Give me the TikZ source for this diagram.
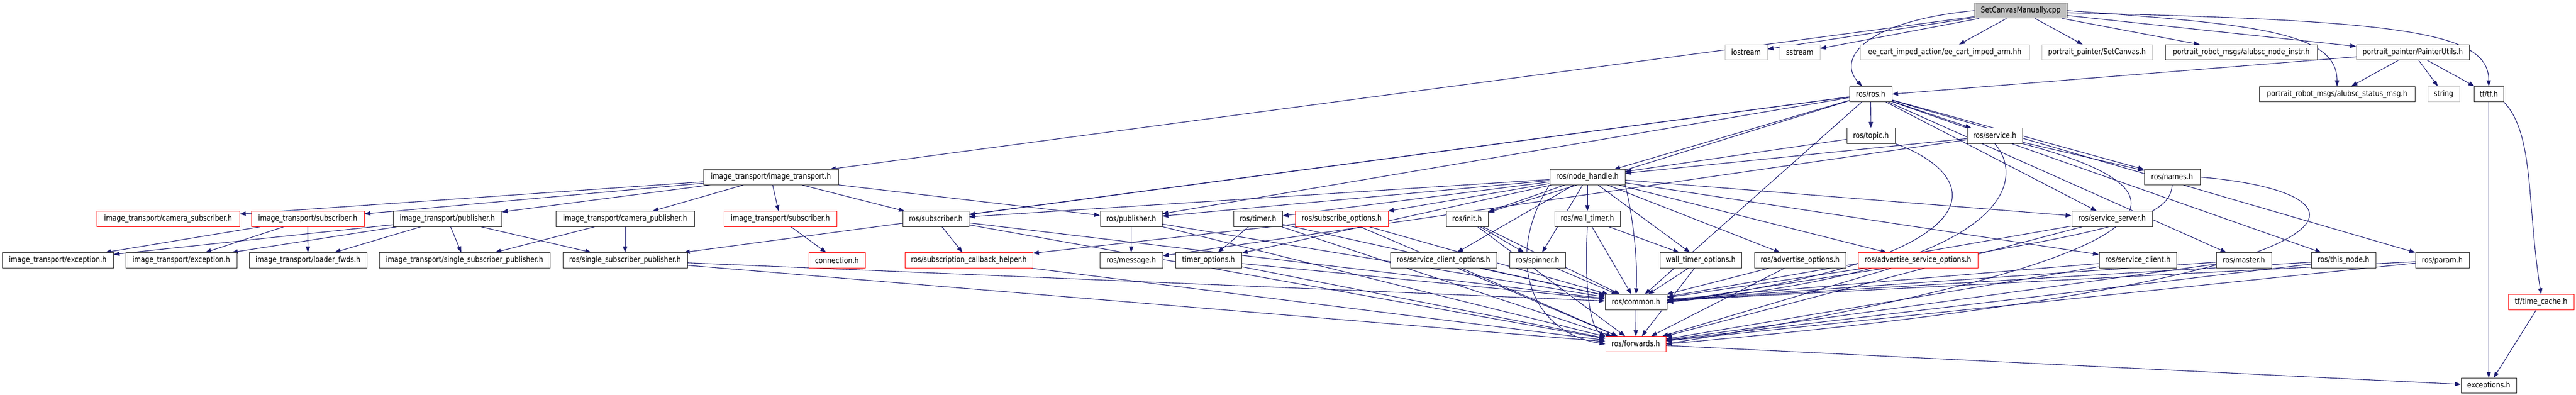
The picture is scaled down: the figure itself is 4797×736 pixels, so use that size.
\documentclass[tikz,border=0pt]{standalone}
\usepackage{fontspec}
\usepackage{graphicx}
\newfontfamily\dejavu{DejaVu Sans}
\usetikzlibrary{arrows.meta,backgrounds}
\definecolor{eblue}{HTML}{191970}
\definecolor{ngray}{HTML}{BFBFBF}
\newcommand\lbl[1]{\scalebox{1}[1.17]{#1}}
\tikzset{
  box/.style={draw=black!85, line width=1pt, minimum height=28.3pt, inner sep=0pt, fill=white, text=black,
    font=\dejavu\fontsize{12.6pt}{14pt}\selectfont},
  redbox/.style={box, draw=red},
  graybox/.style={box, draw=ngray},
  mainbox/.style={box, fill=ngray},
  dep/.style={draw=eblue, line width=1.1pt, -{Triangle[length=11pt,width=8pt]}},
}
\begin{document}
\begin{tikzpicture}[x=1pt,y=-1pt]
\useasboundingbox (0,0) rectangle (4797,736);
% row 0
\node[mainbox, minimum width=172pt] (main) at (3763,19.8) {\lbl{SetCanvasManually.cpp}};
% row 1
\node[graybox, minimum width=79pt] (iostream) at (3251.5,97.5) {\lbl{iostream}};
\node[graybox, minimum width=75pt] (sstream) at (3351.5,97.5) {\lbl{sstream}};
\node[graybox, minimum width=315pt] (eecart) at (3621.5,97.5) {\lbl{ee\_cart\_imped\_action/ee\_cart\_imped\_arm.hh}};
\node[graybox, minimum width=206pt] (setcanvas) at (3905,97.5) {\lbl{portrait\_painter/SetCanvas.h}};
\node[box, minimum width=283pt] (nodeinstr) at (4173.5,97.5) {\lbl{portrait\_robot\_msgs/alubsc\_node\_instr.h}};
\node[box, minimum width=210pt] (painter) at (4493,97.5) {\lbl{portrait\_painter/PainterUtils.h}};
% row 2
\node[box, minimum width=79pt] (rosros) at (3483.5,175.3) {\lbl{ros/ros.h}};
\node[box, minimum width=290pt] (statusmsg) at (4352,175.3) {\lbl{portrait\_robot\_msgs/alubsc\_status\_msg.h}};
\node[graybox, minimum width=59pt] (string) at (4550.5,175.3) {\lbl{string}};
\node[box, minimum width=55pt] (tf) at (4634.5,175.3) {\lbl{tf/tf.h}};
% row 3
\node[box, minimum width=90pt] (topic) at (3484,253) {\lbl{ros/topic.h}};
\node[box, minimum width=103pt] (service) at (3714.5,253) {\lbl{ros/service.h}};
% row 4
\node[box, minimum width=251pt] (itit) at (1435.5,330) {\lbl{image\_transport/image\_transport.h}};
\node[box, minimum width=140pt] (nh) at (2956,330) {\lbl{ros/node\_handle.h}};
\node[box, minimum width=104pt] (names) at (4045,330) {\lbl{ros/names.h}};
% row 5
\node[redbox, minimum width=266pt] (camsub) at (313,408) {\lbl{image\_transport/camera\_subscriber.h}};
\node[redbox, minimum width=210pt] (itsuba) at (573,408) {\lbl{image\_transport/subscriber.h}};
\node[box, minimum width=202pt] (itpub) at (833,408) {\lbl{image\_transport/publisher.h}};
\node[box, minimum width=258pt] (campub) at (1164,408) {\lbl{image\_transport/camera\_publisher.h}};
\node[redbox, minimum width=210pt] (itsubb) at (1453,408) {\lbl{image\_transport/subscriber.h}};
\node[box, minimum width=123pt] (rsub) at (1742.5,408) {\lbl{ros/subscriber.h}};
\node[box, minimum width=115pt] (rpub) at (2106.5,408) {\lbl{ros/publisher.h}};
\node[box, minimum width=91pt] (timer) at (2342.5,408) {\lbl{ros/timer.h}};
\node[redbox, minimum width=173pt] (subopt) at (2498.5,408) {\lbl{ros/subscribe\_options.h}};
\node[box, minimum width=78pt] (init) at (2732,408) {\lbl{ros/init.h}};
\node[box, minimum width=122pt] (wtimer) at (2956,408) {\lbl{ros/wall\_timer.h}};
\node[box, minimum width=150pt] (ssrv) at (3933,408) {\lbl{ros/service\_server.h}};
% row 6
\node[box, minimum width=207pt] (exca) at (107.5,485) {\lbl{image\_transport/exception.h}};
\node[box, minimum width=207pt] (excb) at (337.5,485) {\lbl{image\_transport/exception.h}};
\node[box, minimum width=219pt] (loader) at (573.5,485) {\lbl{image\_transport/loader\_fwds.h}};
\node[box, minimum width=318pt] (itssp) at (865,485) {\lbl{image\_transport/single\_subscriber\_publisher.h}};
\node[box, minimum width=232pt] (rssp) at (1164,485) {\lbl{ros/single\_subscriber\_publisher.h}};
\node[redbox, minimum width=105pt] (conn) at (1558.5,485) {\lbl{connection.h}};
\node[redbox, minimum width=238pt] (sch) at (1804,485) {\lbl{ros/subscription\_callback\_helper.h}};
\node[box, minimum width=117pt] (msg) at (2106.5,485) {\lbl{ros/message.h}};
\node[box, minimum width=123pt] (topt) at (2250.5,485) {\lbl{timer\_options.h}};
\node[box, minimum width=198pt] (sco) at (2688,485) {\lbl{ros/service\_client\_options.h}};
\node[box, minimum width=104pt] (spinner) at (2863,485) {\lbl{ros/spinner.h}};
\node[box, minimum width=152pt] (wto) at (3167,485) {\lbl{wall\_timer\_options.h}};
\node[box, minimum width=170pt] (advo) at (3352,485) {\lbl{ros/advertise\_options.h}};
\node[redbox, minimum width=223pt] (adso) at (3571.5,485) {\lbl{ros/advertise\_service\_options.h}};
\node[box, minimum width=144pt] (sclient) at (3981,485) {\lbl{ros/service\_client.h}};
\node[box, minimum width=103pt] (master) at (4178.5,485) {\lbl{ros/master.h}};
\node[box, minimum width=120pt] (thisnode) at (4364,485) {\lbl{ros/this\_node.h}};
\node[box, minimum width=100pt] (param) at (4548,485) {\lbl{ros/param.h}};
% row 7
\node[box, minimum width=115pt] (common) at (3046.5,563) {\lbl{ros/common.h}};
\node[redbox, minimum width=122pt] (tcache) at (4732,563) {\lbl{tf/time\_cache.h}};
% row 8
\node[redbox, minimum width=112pt] (fwd) at (3046,641) {\lbl{ros/forwards.h}};
% row 9
\node[box, minimum width=103pt] (excs) at (4634.5,718.6) {\lbl{exceptions.h}};

\begin{scope}[on background layer]
\fill[white] (0,0) rectangle (4797,736);
% main file
\foreach \t in {itit,iostream,sstream,eecart,setcanvas,nodeinstr,painter}
  \draw[dep] (main) -- (\t);
\draw[dep] (main.west) .. controls (3470,40) and (3420,110) .. ([xshift=-16pt]rosros.north);
\draw[dep] (main.east) .. controls (4200,45) and (4352,60) .. (statusmsg.north);
\draw[dep] ([yshift=-4pt]main.east) .. controls (4480,38) and (4634.5,60) .. (tf.north);
% PainterUtils
\draw[dep] (painter) -- (rosros.east);
\foreach \t in {statusmsg,string,tf} \draw[dep] (painter) -- (\t);
% tf
\draw[dep] (tf) -- (excs);
\draw[dep] (tf.south east) .. controls (4720,250) and (4705,380) .. (tcache.north);
\draw[dep] (tcache) -- (excs);
\draw[dep] (fwd) -- (excs);
% ros/ros.h
\foreach \t in {topic,service,nh,names,rsub,rpub,rssp,ssrv,init,master,thisnode,param,common}
  \draw[dep] (rosros) -- (\t);
% topic, service, names
\draw[dep] (topic) -- (nh);
\draw[dep] (topic.south east) .. controls (3700,330) and (3730,480) .. (common.east);
\foreach \t in {nh,names,msg}
  \draw[dep] (service) -- (\t);
\draw[dep] (service.south) .. controls (3770,330) and (3760,500) .. (common.east);
\draw[dep] (service.south east) .. controls (4000,330) and (4260,450) .. (fwd.east);
\draw[dep] (names.south) .. controls (4040,420) and (3900,440) .. (common.east);
\draw[dep] (names.east) .. controls (4450,360) and (4470,520) .. (fwd.east);
% node_handle
\foreach \t in {rpub,rsub,ssrv,sclient,timer,wtimer,advo,adso,subopt,sco,topt,wto,spinner,init}
  \draw[dep] (nh) -- (\t);
\draw[dep] (nh.south east) .. controls (3040,400) and (3050,480) .. (common.north);
\draw[dep] (nh.south west) .. controls (2800,480) and (2850,620) .. (fwd.west);
% image_transport
\foreach \t in {camsub,itsuba,itpub,campub,itsubb,rsub,rpub}
  \draw[dep] (itit) -- (\t);
\foreach \t in {exca,excb,loader}
  \draw[dep] (itsuba) -- (\t);
\foreach \t in {exca,excb,loader,itssp,rssp}
  \draw[dep] (itpub) -- (\t);
\foreach \t in {itssp,rssp}
  \draw[dep] (campub) -- (\t);
\draw[dep] (itsubb) -- (conn);
% ros headers to common / forwards
\draw[dep] (rsub) -- (sch);
\draw[dep] (rpub) -- (msg);
\draw[dep] (timer) -- (topt);
\draw[dep] (subopt) -- (sch);
\draw[dep] (init) -- (spinner);
\draw[dep] (wtimer) -- (wto);
\foreach \s in {rsub,rpub,rssp,timer,subopt,init,wtimer,ssrv,sclient,master,thisnode,param,advo,adso,sco,wto,topt}
  \draw[dep] (\s) -- (common);
\foreach \s in {rsub,rpub,rssp,timer,subopt,init,ssrv,sclient,master,thisnode,param,advo,adso,sco,wto,topt,sch}
  \draw[dep] (\s) -- (fwd);
\draw[dep] (wtimer.south) .. controls (2950,530) and (2960,610) .. (fwd.north west);
\draw[dep] (spinner) -- (common);
\draw[dep] (common) -- (fwd);
\end{scope}
\end{tikzpicture}
\end{document}
